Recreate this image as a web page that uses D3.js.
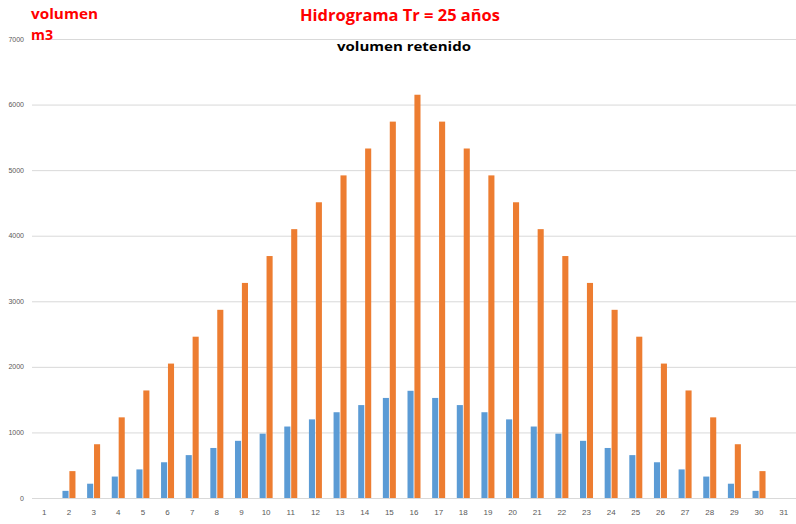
<!DOCTYPE html>
<html><head><meta charset="utf-8">
<script src="https://cdn.jsdelivr.net/npm/d3@7"></script>
<style>body{margin:0;background:#fff}svg{display:block}</style>
</head><body><svg id="c" width="796" height="524"></svg>
<script>
const categories = ["1","2","3","4","5","6","7","8","9","10","11","12","13","14","15","16","17","18","19","20","21","22","23","24","25","26","27","28","29","30","31"];
const blueValues = [0,109,218,327,436,545,654,763,872,981,1090,1199,1308,1417,1526,1635,1526,1417,1308,1199,1090,981,872,763,654,545,436,327,218,109,0];
const orangeValues = [0,410,820,1230,1640,2050,2460,2870,3280,3690,4100,4510,4920,5330,5740,6150,5740,5330,4920,4510,4100,3690,3280,2870,2460,2050,1640,1230,820,410,0];
const yTicks = [0,1000,2000,3000,4000,5000,6000,7000];
const seriesNames = ["a","b"];
const colors = ["#5b9bd5","#ed7d31"];

const svg = d3.select("#c");
const x = d3.scaleBand().domain(categories).range([32,796]).paddingInner(0).paddingOuter(0);
const x1 = d3.scaleBand().domain(seriesNames).range([x.bandwidth()/2-6.5, x.bandwidth()/2+6.5]).paddingInner(0.12);
const y = d3.scaleLinear().domain([0,7000]).range([498,39]);

svg.append("g").selectAll("line").data(yTicks).join("line")
  .attr("x1",32).attr("x2",796).attr("y1",d=>y(d)+0.5).attr("y2",d=>y(d)+0.5)
  .attr("stroke","#d9d9d9").attr("stroke-width",1);

svg.append("g").selectAll("text").data(yTicks).join("text")
  .attr("x",24).attr("y",d=>y(d)+2.5).attr("text-anchor","end")
  .attr("font-family","Liberation Sans, Arial, sans-serif").attr("font-size",7).attr("fill","#595959")
  .text(d=>d);

const data = categories.map((c,i)=>({c, v:[blueValues[i], orangeValues[i]]}));
const g = svg.append("g").selectAll("g").data(data).join("g").attr("transform",d=>`translate(${x(d.c)},0)`);
g.selectAll("rect").data(d=>d.v.map((v,j)=>({v,s:seriesNames[j],j}))).join("rect")
  .attr("x",d=>x1(d.s)).attr("width",x1.bandwidth())
  .attr("y",d=>y(d.v)).attr("height",d=>y(0)-y(d.v))
  .attr("fill",d=>colors[d.j]);

svg.append("g").selectAll("text").data(categories).join("text")
  .attr("x",d=>x(d)+x.bandwidth()/2).attr("y",515).attr("text-anchor","middle")
  .attr("font-family","Liberation Sans, Arial, sans-serif").attr("font-size",8).attr("fill","#595959")
  .text(d=>d);

svg.append("text").attr("x",400).attr("y",21).attr("text-anchor","middle")
  .attr("font-family","Open Sans, sans-serif").attr("font-weight","bold").attr("font-size",15.5).attr("fill","#ff0000")
  .attr("textLength",200).attr("lengthAdjust","spacingAndGlyphs")
  .text("Hidrograma Tr = 25 años");
svg.append("text").attr("x",404).attr("y",51).attr("text-anchor","middle")
  .attr("font-family","Open Sans, sans-serif").attr("font-weight","bold").attr("font-size",12.5).attr("fill","#000")
  .attr("textLength",134).attr("lengthAdjust","spacingAndGlyphs")
  .text("volumen retenido");
svg.append("text").attr("x",31).attr("y",19)
  .attr("font-family","Open Sans, sans-serif").attr("font-weight","bold").attr("font-size",13.5).attr("fill","#ff0000")
  .attr("textLength",67).attr("lengthAdjust","spacingAndGlyphs")
  .text("volumen");
svg.append("text").attr("x",31).attr("y",40)
  .attr("font-family","Open Sans, sans-serif").attr("font-weight","bold").attr("font-size",13.5).attr("fill","#ff0000")
  .attr("textLength",22).attr("lengthAdjust","spacingAndGlyphs")
  .text("m3");
</script></body></html>
